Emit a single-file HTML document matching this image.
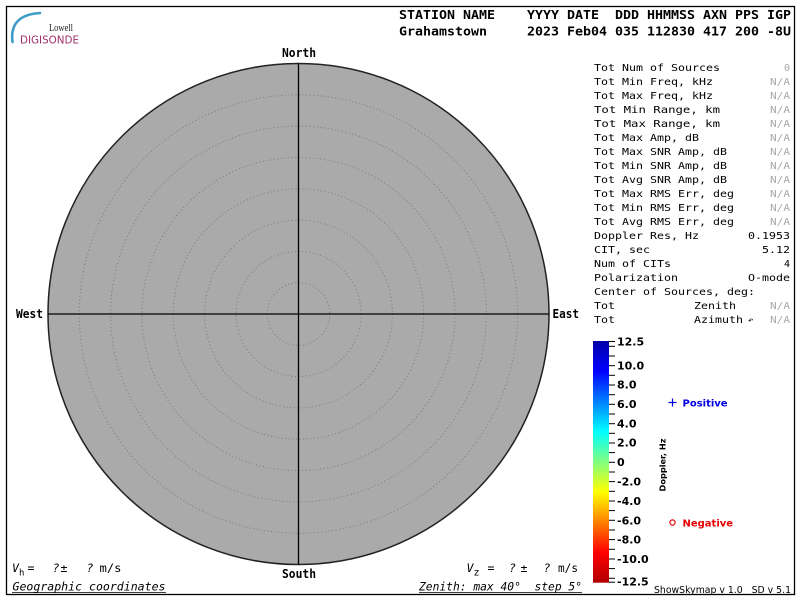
<!DOCTYPE html>
<html><head><meta charset="utf-8"><style>
html,body{margin:0;padding:0;background:#fff;}
svg{display:block;}
.m{font-family:"DejaVu Sans Mono","Liberation Mono",monospace;}
.s{font-family:"DejaVu Sans","Liberation Sans",sans-serif;}
</style></head><body>
<svg width="800" height="600" viewBox="0 0 800 600" xmlns="http://www.w3.org/2000/svg">
<defs>
<linearGradient id="jet" x1="0" y1="0" x2="0" y2="1">
<stop offset="0" stop-color="#0000a8"/>
<stop offset="0.125" stop-color="#0000ff"/>
<stop offset="0.375" stop-color="#00ffff"/>
<stop offset="0.5" stop-color="#80ff80"/>
<stop offset="0.625" stop-color="#ffff00"/>
<stop offset="0.875" stop-color="#ff0000"/>
<stop offset="1" stop-color="#b00000"/>
</linearGradient>
</defs>
<rect x="0" y="0" width="800" height="600" fill="#fff"/>
<rect x="6.5" y="6.5" width="788" height="588" fill="none" stroke="#000" stroke-width="1.3"/>

<!-- logo -->
<path d="M12.5,42 Q9,15 40,13" fill="none" stroke="#3f9cc8" stroke-width="2.6" stroke-linecap="round"/>
<text x="49" y="31" font-family="Liberation Serif,serif" font-size="11" textLength="24" lengthAdjust="spacingAndGlyphs" fill="#222">Lowell</text>
<text x="20" y="43.5" class="s" font-size="11" textLength="59" lengthAdjust="spacingAndGlyphs" fill="#a0306a">DIGISONDE</text>

<!-- header -->
<g class="m" font-weight="bold" font-size="12" fill="#000">
<text x="399" y="19" textLength="392" lengthAdjust="spacingAndGlyphs" xml:space="preserve">STATION NAME    YYYY DATE  DDD HHMMSS AXN PPS IGP</text>
<text x="399" y="35.5" textLength="392" lengthAdjust="spacingAndGlyphs" xml:space="preserve">Grahamstown     2023 Feb04 035 112830 417 200 -8U</text>
</g>

<!-- polar plot -->
<circle cx="298.5" cy="314" r="250.5" fill="#aaaaaa" stroke="#222" stroke-width="1.5"/>
<g fill="none" stroke="#7a7a7a" stroke-width="1" stroke-dasharray="1,2.6">
<circle cx="298.5" cy="314" r="31.3"/>
<circle cx="298.5" cy="314" r="62.6"/>
<circle cx="298.5" cy="314" r="93.9"/>
<circle cx="298.5" cy="314" r="125.2"/>
<circle cx="298.5" cy="314" r="156.6"/>
<circle cx="298.5" cy="314" r="187.9"/>
<circle cx="298.5" cy="314" r="219.2"/>
</g>
<line x1="298.5" y1="63.5" x2="298.5" y2="564.5" stroke="#000" stroke-width="1.3"/>
<line x1="48" y1="314" x2="549" y2="314" stroke="#000" stroke-width="1.3"/>

<g class="m" font-weight="bold" font-size="12" fill="#000">
<text x="282" y="57" textLength="34" lengthAdjust="spacingAndGlyphs">North</text>
<text x="282" y="578" textLength="34" lengthAdjust="spacingAndGlyphs">South</text>
<text x="16" y="318" textLength="27" lengthAdjust="spacingAndGlyphs">West</text>
<text x="552.5" y="318" textLength="26.5" lengthAdjust="spacingAndGlyphs">East</text>
</g>

<!-- right panel -->
<g class="m" font-size="10" fill="#000" xml:space="preserve">
<text x="594" y="71" textLength="126" lengthAdjust="spacingAndGlyphs">Tot Num of Sources</text>
<text x="594" y="85" textLength="119" lengthAdjust="spacingAndGlyphs">Tot Min Freq, kHz</text>
<text x="594" y="99" textLength="119" lengthAdjust="spacingAndGlyphs">Tot Max Freq, kHz</text>
<text x="594" y="113" textLength="126" lengthAdjust="spacingAndGlyphs">Tot Min Range, km</text>
<text x="594" y="127" textLength="126" lengthAdjust="spacingAndGlyphs">Tot Max Range, km</text>
<text x="594" y="141" textLength="105" lengthAdjust="spacingAndGlyphs">Tot Max Amp, dB</text>
<text x="594" y="155" textLength="133" lengthAdjust="spacingAndGlyphs">Tot Max SNR Amp, dB</text>
<text x="594" y="169" textLength="133" lengthAdjust="spacingAndGlyphs">Tot Min SNR Amp, dB</text>
<text x="594" y="183" textLength="133" lengthAdjust="spacingAndGlyphs">Tot Avg SNR Amp, dB</text>
<text x="594" y="197" textLength="140" lengthAdjust="spacingAndGlyphs">Tot Max RMS Err, deg</text>
<text x="594" y="211" textLength="140" lengthAdjust="spacingAndGlyphs">Tot Min RMS Err, deg</text>
<text x="594" y="225" textLength="140" lengthAdjust="spacingAndGlyphs">Tot Avg RMS Err, deg</text>
<text x="594" y="239" textLength="105" lengthAdjust="spacingAndGlyphs">Doppler Res, Hz</text>
<text x="594" y="253" textLength="56" lengthAdjust="spacingAndGlyphs">CIT, sec</text>
<text x="594" y="267" textLength="77" lengthAdjust="spacingAndGlyphs">Num of CITs</text>
<text x="594" y="281" textLength="84" lengthAdjust="spacingAndGlyphs">Polarization</text>
<text x="594" y="295" textLength="161" lengthAdjust="spacingAndGlyphs">Center of Sources, deg:</text>
<text x="594" y="309" textLength="21" lengthAdjust="spacingAndGlyphs">Tot</text>
<text x="594" y="323" textLength="21" lengthAdjust="spacingAndGlyphs">Tot</text>
<text x="694" y="309" textLength="42" lengthAdjust="spacingAndGlyphs">Zenith</text>
<text x="694" y="323" textLength="49" lengthAdjust="spacingAndGlyphs">Azimuth</text>
<text x="748" y="323" font-size="9">↶</text>
<text x="790" y="239" text-anchor="end" textLength="42" lengthAdjust="spacingAndGlyphs">0.1953</text>
<text x="790" y="253" text-anchor="end" textLength="28" lengthAdjust="spacingAndGlyphs">5.12</text>
<text x="790" y="267" text-anchor="end">4</text>
<text x="790" y="281" text-anchor="end" textLength="42" lengthAdjust="spacingAndGlyphs">O-mode</text>
</g>
<g class="m" font-size="10" fill="#a8a8a8">
<text x="790" y="71" text-anchor="end">0</text>
<text x="790" y="85" text-anchor="end" textLength="20" lengthAdjust="spacingAndGlyphs">N/A</text>
<text x="790" y="99" text-anchor="end" textLength="20" lengthAdjust="spacingAndGlyphs">N/A</text>
<text x="790" y="113" text-anchor="end" textLength="20" lengthAdjust="spacingAndGlyphs">N/A</text>
<text x="790" y="127" text-anchor="end" textLength="20" lengthAdjust="spacingAndGlyphs">N/A</text>
<text x="790" y="141" text-anchor="end" textLength="20" lengthAdjust="spacingAndGlyphs">N/A</text>
<text x="790" y="155" text-anchor="end" textLength="20" lengthAdjust="spacingAndGlyphs">N/A</text>
<text x="790" y="169" text-anchor="end" textLength="20" lengthAdjust="spacingAndGlyphs">N/A</text>
<text x="790" y="183" text-anchor="end" textLength="20" lengthAdjust="spacingAndGlyphs">N/A</text>
<text x="790" y="197" text-anchor="end" textLength="20" lengthAdjust="spacingAndGlyphs">N/A</text>
<text x="790" y="211" text-anchor="end" textLength="20" lengthAdjust="spacingAndGlyphs">N/A</text>
<text x="790" y="225" text-anchor="end" textLength="20" lengthAdjust="spacingAndGlyphs">N/A</text>
<text x="790" y="309" text-anchor="end" textLength="20" lengthAdjust="spacingAndGlyphs">N/A</text>
<text x="790" y="323" text-anchor="end" textLength="20" lengthAdjust="spacingAndGlyphs">N/A</text>
</g>

<!-- colorbar -->
<rect x="593" y="341" width="16" height="241.7" fill="url(#jet)"/>
<g stroke="#000" stroke-width="1">
<line x1="609" y1="341.5" x2="615" y2="341.5"/>
<line x1="609" y1="346.3" x2="615" y2="346.3"/>
<line x1="609" y1="356" x2="615" y2="356"/>
<line x1="609" y1="365.7" x2="615" y2="365.7"/>
<line x1="609" y1="375.3" x2="615" y2="375.3"/>
<line x1="609" y1="385" x2="615" y2="385"/>
<line x1="609" y1="394.7" x2="615" y2="394.7"/>
<line x1="609" y1="404.3" x2="615" y2="404.3"/>
<line x1="609" y1="414" x2="615" y2="414"/>
<line x1="609" y1="423.7" x2="615" y2="423.7"/>
<line x1="609" y1="433.3" x2="615" y2="433.3"/>
<line x1="609" y1="443" x2="615" y2="443"/>
<line x1="609" y1="452.6" x2="615" y2="452.6"/>
<line x1="609" y1="462.3" x2="615" y2="462.3"/>
<line x1="609" y1="472" x2="615" y2="472"/>
<line x1="609" y1="481.6" x2="615" y2="481.6"/>
<line x1="609" y1="491.3" x2="615" y2="491.3"/>
<line x1="609" y1="501" x2="615" y2="501"/>
<line x1="609" y1="510.6" x2="615" y2="510.6"/>
<line x1="609" y1="520.3" x2="615" y2="520.3"/>
<line x1="609" y1="530" x2="615" y2="530"/>
<line x1="609" y1="539.6" x2="615" y2="539.6"/>
<line x1="609" y1="549.3" x2="615" y2="549.3"/>
<line x1="609" y1="559" x2="615" y2="559"/>
<line x1="609" y1="568.6" x2="615" y2="568.6"/>
<line x1="609" y1="578.3" x2="615" y2="578.3"/>
<line x1="609" y1="582.2" x2="615" y2="582.2"/>
</g>
<g class="s" font-weight="bold" font-size="11" fill="#000">
<text x="617" y="345.5">12.5</text>
<text x="617" y="369.5">10.0</text>
<text x="617" y="388.5">8.0</text>
<text x="617" y="408">6.0</text>
<text x="617" y="427.5">4.0</text>
<text x="617" y="446.5">2.0</text>
<text x="617" y="466">0</text>
<text x="617" y="485.5">-2.0</text>
<text x="617" y="505">-4.0</text>
<text x="617" y="524.5">-6.0</text>
<text x="617" y="543.5">-8.0</text>
<text x="617" y="563">-10.0</text>
<text x="617" y="585.5">-12.5</text>
</g>
<text transform="translate(665.5,465) rotate(-90)" text-anchor="middle" class="s" font-weight="bold" font-size="8.2" fill="#000">Doppler, Hz</text>

<!-- legend -->
<g stroke="#0000e6" stroke-width="1.2">
<line x1="668.5" y1="402.5" x2="676.5" y2="402.5"/>
<line x1="672.5" y1="398.5" x2="672.5" y2="406.5"/>
</g>
<text x="682.5" y="406.5" class="s" font-weight="bold" font-size="10" fill="#0000e6">Positive</text>
<circle cx="672.5" cy="522.5" r="2.6" fill="none" stroke="#e60000" stroke-width="1.2"/>
<text x="682.5" y="526.5" class="s" font-weight="bold" font-size="10" fill="#e60000">Negative</text>
<text x="654" y="593" class="s" font-size="9.5" fill="#000" textLength="137" lengthAdjust="spacingAndGlyphs" xml:space="preserve">ShowSkymap v 1.0   SD v 5.1</text>

<!-- bottom left -->
<g class="m" font-style="italic" font-size="11.5" fill="#000">
<text x="12" y="572">V</text>
<text x="19" y="575.5" font-size="9" font-style="normal">h</text>
<text x="27.5" y="572">=</text>
<text x="52.5" y="572">?</text>
<text x="60.5" y="572" font-style="normal">±</text>
<text x="86.5" y="572">?</text>
<text x="99.5" y="572" font-style="normal" textLength="22" lengthAdjust="spacingAndGlyphs">m/s</text>
<text x="12.5" y="590.5" textLength="153" lengthAdjust="spacingAndGlyphs">Geographic coordinates</text>
</g>
<line x1="12" y1="592.6" x2="166" y2="592.6" stroke="#000" stroke-width="0.8"/>

<!-- bottom right -->
<g class="m" font-style="italic" font-size="11.5" fill="#000">
<text x="466.5" y="572">V</text>
<text x="473.5" y="575.5" font-size="10" font-style="normal">z</text>
<text x="487.5" y="572">=</text>
<text x="509" y="572">?</text>
<text x="520.5" y="572" font-style="normal">±</text>
<text x="543.5" y="572">?</text>
<text x="558" y="572" font-style="normal" textLength="20" lengthAdjust="spacingAndGlyphs">m/s</text>
<text x="419" y="590.5" textLength="163" lengthAdjust="spacingAndGlyphs" xml:space="preserve">Zenith: max 40°  step 5°</text>
</g>
<line x1="419" y1="592.6" x2="582" y2="592.6" stroke="#000" stroke-width="0.8"/>
</svg>
</body></html>
